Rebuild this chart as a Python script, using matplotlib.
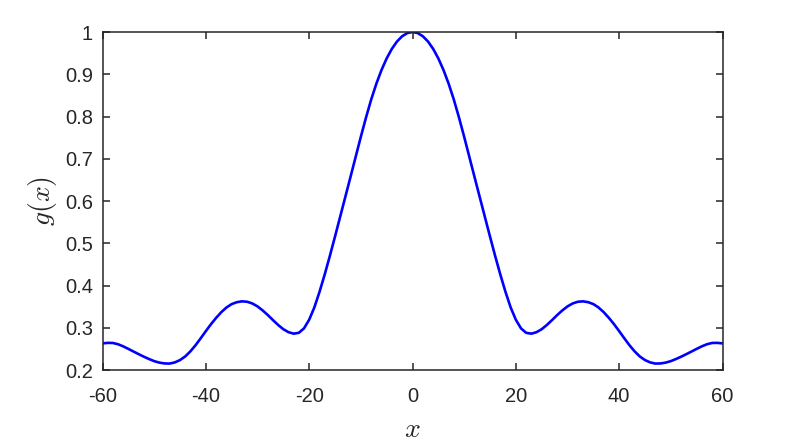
import numpy as np
import matplotlib
matplotlib.use("Agg")
import matplotlib.pyplot as plt

# sample positions (one per unit) and curve values
x = np.arange(-60, 61, 1)
g = [0.2630, 0.2642, 0.2640, 0.2610, 0.2560, 0.2500, 0.2437, 0.2375, 0.2315, 0.2260,
     0.2210, 0.2175, 0.2155, 0.2152, 0.2180, 0.2235, 0.2320, 0.2440, 0.2585, 0.2750,
     0.2920, 0.3085, 0.3235, 0.3370, 0.3480, 0.3560, 0.3605, 0.3625, 0.3615, 0.3575,
     0.3505, 0.3410, 0.3300, 0.3180, 0.3065, 0.2965, 0.2895, 0.2860, 0.2880, 0.2985,
     0.3190, 0.3480, 0.3848, 0.4258, 0.4698, 0.5158, 0.5628, 0.6098, 0.6570, 0.7045,
     0.7520, 0.7975, 0.8400, 0.8775, 0.9100, 0.9375, 0.9600, 0.9775, 0.9900, 0.9975,
     1.0000,
     0.9975, 0.9900, 0.9775, 0.9600, 0.9375, 0.9100, 0.8775, 0.8400, 0.7975, 0.7520,
     0.7045, 0.6570, 0.6098, 0.5628, 0.5158, 0.4698, 0.4258, 0.3848, 0.3480, 0.3190,
     0.2985, 0.2880, 0.2860, 0.2895, 0.2965, 0.3065, 0.3180, 0.3300, 0.3410, 0.3505,
     0.3575, 0.3615, 0.3625, 0.3605, 0.3560, 0.3480, 0.3370, 0.3235, 0.3085, 0.2920,
     0.2750, 0.2585, 0.2440, 0.2320, 0.2235, 0.2180, 0.2152, 0.2155, 0.2175, 0.2210,
     0.2260, 0.2315, 0.2375, 0.2437, 0.2500, 0.2560, 0.2610, 0.2640, 0.2642, 0.2630]

xticks = [-60, -40, -20, 0, 20, 40, 60]
yticks = [0.2, 0.3, 0.4, 0.5, 0.6, 0.7, 0.8, 0.9, 1]
ytick_labels = ['0.2', '0.3', '0.4', '0.5', '0.6', '0.7', '0.8', '0.9', '1']

plt.rcParams['font.family'] = ['Liberation Sans', 'DejaVu Sans']
plt.rcParams['mathtext.fontset'] = 'cm'
plt.rcParams['axes.unicode_minus'] = False

fig = plt.figure(figsize=(7.97, 4.42), dpi=100)
ax = fig.add_axes([102.5 / 797, 1 - 370 / 442, 620 / 797, 338 / 442])

ax.plot(x, g, color='#0000ff', linewidth=1.9, solid_joinstyle='round')

ax.set_xlim(-60, 60)
ax.set_ylim(0.2, 1)
ax.set_xticks(xticks)
ax.set_yticks(yticks)
ax.set_yticklabels(ytick_labels)

axcol = '#262626'
for s in ax.spines.values():
    s.set_color(axcol)
    s.set_linewidth(1.1)
ax.tick_params(direction='in', top=True, right=True, length=5, width=1.1,
               colors=axcol, labelsize=14.5)
ax.tick_params(axis='x', pad=12)
ax.tick_params(axis='y', pad=7)

ax.set_xlabel('$x$', fontsize=20, color=axcol, labelpad=8)
ax.set_ylabel('$g(x)$', fontsize=20, color=axcol, labelpad=4)

fig.savefig('out.png', dpi=100)
